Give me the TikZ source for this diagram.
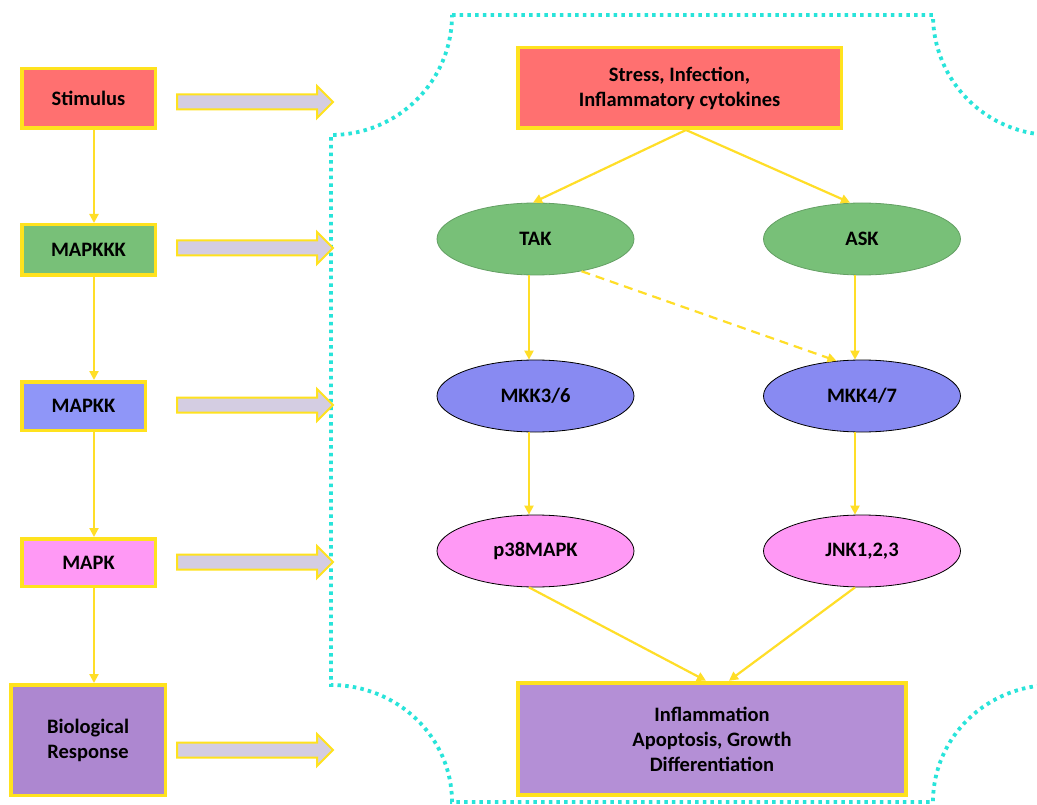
\documentclass[tikz,border=0pt]{standalone}
\usepackage{fontspec}
\setmainfont{Carlito}
\usetikzlibrary{arrows.meta,shapes.geometric}
\definecolor{cred}{RGB}{255,112,112}
\definecolor{cgreen}{RGB}{120,192,120}
\definecolor{cgreenline}{RGB}{100,160,100}
\definecolor{cblue}{RGB}{143,150,248}
\definecolor{cblueell}{RGB}{136,138,242}
\definecolor{cpink}{RGB}{255,153,245}
\definecolor{cpurple}{RGB}{173,135,208}
\definecolor{cpurple2}{RGB}{180,143,214}
\definecolor{cyel}{RGB}{255,226,30}
\definecolor{cyelline}{RGB}{255,222,40}
\definecolor{carrow}{RGB}{212,205,226}
\definecolor{ccyan}{RGB}{40,228,218}
\tikzset{
  txt/.style={font=\bfseries\fontsize{20.5}{25}\selectfont, align=center, text=black},
  lbox/.style={txt, rectangle, draw=cyel, line width=3.5pt, inner sep=0pt},
  ell/.style={txt, ellipse, inner sep=0pt, minimum width=197pt, minimum height=72pt, line width=0.8pt},
  conn/.style={draw=cyelline, line width=2.2pt, -{Triangle[length=9pt,width=9pt]}},
  dashconn/.style={conn, dash pattern=on 9pt off 6pt},
  barrow/.style={draw=cyel, line width=2pt, fill=carrow, line join=miter},
  border/.style={draw=ccyan, line width=3.8pt, dash pattern=on 3.5pt off 4.2pt}
}
\begin{document}
\begin{tikzpicture}[x=1pt,y=-1pt]
\useasboundingbox (0,0) rectangle (1037,805);
\fill[white] (0,0) rectangle (1037,805);

% dotted cyan outline with concave corners
\draw[border] (452,15) -- (933,15)
  .. controls (933,81.3) and (986.7,135) .. (1053,135)
  -- (1053,685)
  .. controls (986.7,685) and (933,737.4) .. (933,802)
  -- (452,802)
  .. controls (452,737.4) and (397.8,685) .. (331,685)
  -- (331,135)
  .. controls (397.8,135) and (452,81.3) .. (452,15) -- cycle;

% left column
\node[lbox, fill=cred, minimum width=133.5pt, minimum height=59.5pt] (stim) at (88.5,98.5) {Stimulus};
\node[lbox, fill=cgreen, minimum width=133.5pt, minimum height=50.5pt] (mapkkk) at (88.5,250) {MAPKKK};
\node[lbox, fill=cblue, minimum width=123.5pt, minimum height=48.5pt] (mapkk) at (83.5,406) {MAPKK};
\node[lbox, fill=cpink, minimum width=133.5pt, minimum height=47.5pt] (mapk) at (88.5,562.5) {MAPK};
\node[lbox, fill=cpurple, minimum width=154.5pt, minimum height=110.5pt] (bio) at (88,740) {Biological\\Response};

\coordinate (lx) at (94,0);
\draw[conn] (stim.south -| lx) -- (mapkkk.north -| lx);
\draw[conn] (mapkkk.south -| lx) -- (mapkk.north -| lx);
\draw[conn] (mapkk.south -| lx) -- (mapk.north -| lx);
\draw[conn] (mapk.south -| lx) -- (bio.north -| lx);

% block arrows
\foreach \yy in {102,248,405,562,750}{
  \draw[barrow] (177,{\yy-7.5}) -- (317,{\yy-7.5}) -- (317,{\yy-16}) -- (333,\yy)
    -- (317,{\yy+16}) -- (317,{\yy+7.5}) -- (177,{\yy+7.5}) -- cycle;
}

% right side
\node[lbox, fill=cred, minimum width=323.5pt, minimum height=80.5pt] (top) at (679.5,88) {Stress, Infection,\\Inflammatory cytokines};
\node[ell, fill=cgreen, draw=cgreenline] (tak) at (535.5,239) {TAK};
\node[ell, fill=cgreen, draw=cgreenline] (ask) at (862,239) {ASK};
\node[ell, fill=cblueell, draw=black] (mkk36) at (535.5,396) {MKK3/6};
\node[ell, fill=cblueell, draw=black] (mkk47) at (862,396) {MKK4/7};
\node[ell, fill=cpink, draw=black] (p38) at (535.5,551) {p38MAPK};
\node[ell, fill=cpink, draw=black] (jnk) at (862,551) {JNK1,2,3};
\node[lbox, fill=cpurple2, line width=4pt, minimum width=388.5pt, minimum height=112.5pt] (bot) at (712,739) {Inflammation\\Apoptosis, Growth\\Differentiation};

\draw[conn] ([xshift=6.5pt]top.south) -- ([xshift=-2.5pt]tak.north);
\draw[conn] ([xshift=6.5pt]top.south) -- ([xshift=-12pt]ask.north);
\draw[conn] ([xshift=-6.5pt]tak.south) -- ([xshift=-6.5pt]mkk36.north);
\draw[dashconn] (tak.-35) -- (mkk47.126);
\draw[conn] ([xshift=-7pt]ask.south) -- ([xshift=-7pt]mkk47.north);
\draw[conn] ([xshift=-6.5pt]mkk36.south) -- ([xshift=-6.5pt]p38.north);
\draw[conn] ([xshift=-7pt]mkk47.south) -- ([xshift=-7pt]jnk.north);
\draw[conn] ([xshift=-6.5pt]p38.south) -- ([xshift=-6pt]bot.north);
\draw[conn] ([xshift=-7pt]jnk.south) -- ([xshift=17pt]bot.north);
\end{tikzpicture}
\end{document}
